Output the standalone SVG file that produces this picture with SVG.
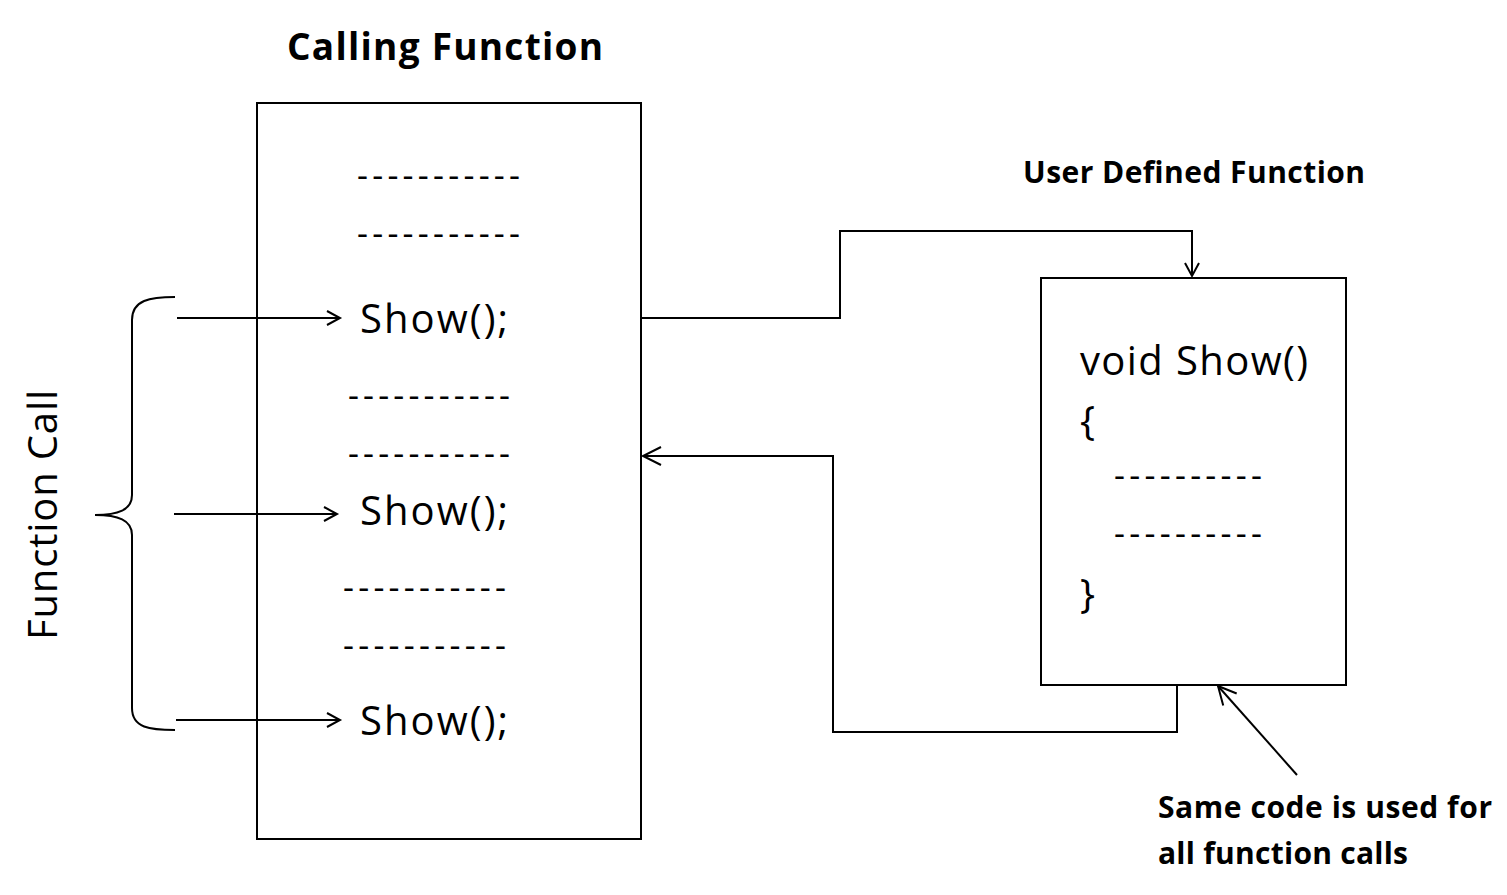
<svg xmlns="http://www.w3.org/2000/svg" width="1507" height="895" viewBox="0 0 1507 895">
<defs>
<style>
text{font-family:"Open Sans","Liberation Sans",sans-serif;fill:#000}
.b{font-weight:bold;font-size:30px}
.c{font-size:40px}
.d{font-size:34px}
.l{fill:none;stroke:#000;stroke-width:2}
</style>
<marker id="a" markerWidth="18" markerHeight="18" refX="15" refY="9" orient="auto" markerUnits="userSpaceOnUse"><path d="M2,2 L15,9 L2,16" fill="none" stroke="#000" stroke-width="2"/></marker>
<marker id="s" markerWidth="22" markerHeight="22" refX="19" refY="10" orient="auto" markerUnits="userSpaceOnUse"><path d="M1,1 L19,10 L1,19" fill="none" stroke="#000" stroke-width="2"/></marker>
</defs>
<rect width="1507" height="895" fill="#fff"/>
<text class="b" x="287" y="60" style="font-size:37px" textLength="316">Calling Function</text>
<g id="caller">
<rect class="l" x="257" y="103" width="384" height="736"/>
<text class="d" x="357" y="187" textLength="163">-----------</text>
<text class="d" x="357" y="245" textLength="163">-----------</text>
<text class="c" x="360" y="333" textLength="148">Show();</text>
<text class="d" x="348" y="407" textLength="162">-----------</text>
<text class="d" x="348" y="465" textLength="162">-----------</text>
<text class="c" x="360" y="525" textLength="148">Show();</text>
<text class="d" x="343" y="599" textLength="163">-----------</text>
<text class="d" x="343" y="657" textLength="163">-----------</text>
<text class="c" x="360" y="735" textLength="148">Show();</text>
</g>
<g id="udf">
<text class="b" x="1023" y="183" textLength="342">User Defined Function</text>
<rect class="l" x="1041" y="278" width="305" height="407"/>
<text class="c" x="1080" y="375" textLength="228">void Show()</text>
<text class="c" x="1080" y="435">{</text>
<text class="d" x="1114" y="487" textLength="148">----------</text>
<text class="d" x="1114" y="545" textLength="148">----------</text>
<text class="c" x="1080" y="608">}</text>
</g>
<g id="funccall">
<text class="c" transform="translate(57,515) rotate(-90)" text-anchor="middle" textLength="250">Function Call</text>
<path class="l" d="M175,297 C150,297 132,300 132,320 L132,495 C132,510 118,515 95,515 C118,515 132,520 132,535 L132,708 C132,728 150,730 175,730"/>
</g>
<g id="note">
<text class="b" x="1158" y="818" textLength="334">Same code is used for</text>
<text class="b" x="1158" y="864" textLength="250">all function calls</text>
</g>
<g id="connectors">
<line class="l" x1="177" y1="318" x2="340" y2="318" marker-end="url(#a)"/>
<line class="l" x1="174" y1="514" x2="337" y2="514" marker-end="url(#a)"/>
<line class="l" x1="176" y1="720" x2="340" y2="720" marker-end="url(#a)"/>
<path class="l" d="M641,318 H840 V231 H1192 V276" marker-end="url(#a)"/>
<path class="l" d="M1177,685 V732 H833 V456 H643" marker-end="url(#s)"/>
<line class="l" x1="1297" y1="775" x2="1218" y2="686" marker-end="url(#s)"/>
</g>
</svg>
